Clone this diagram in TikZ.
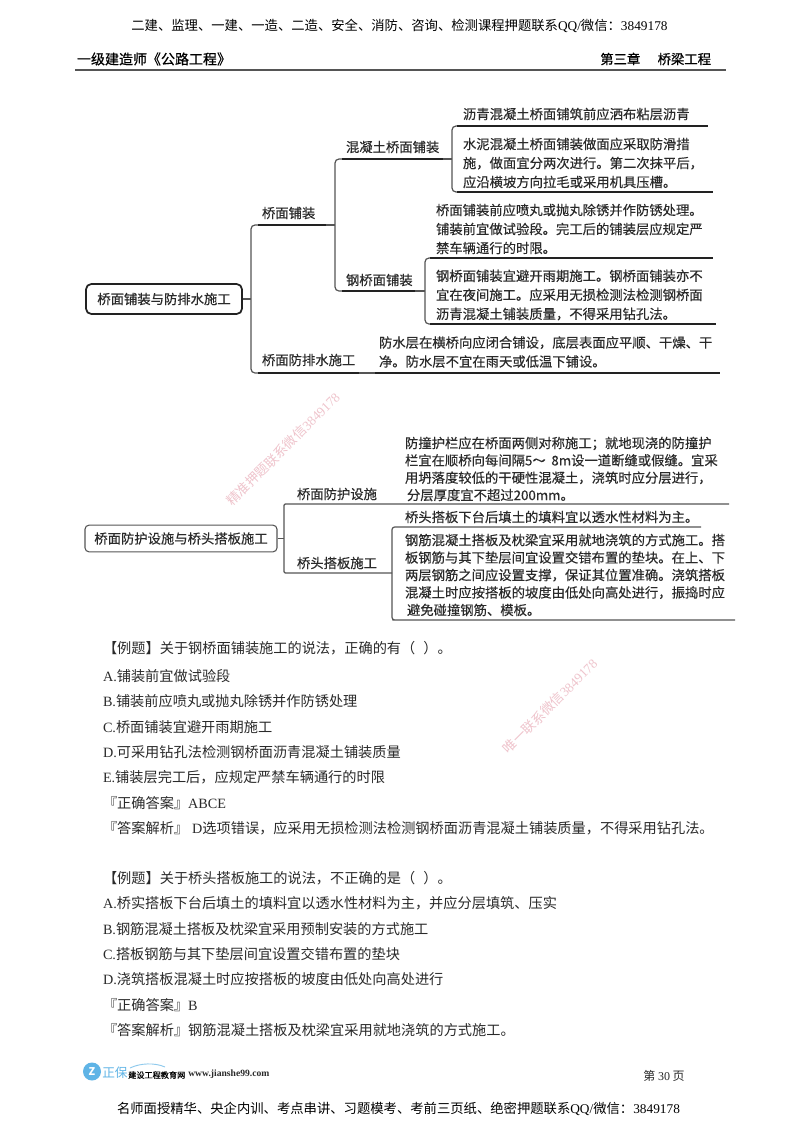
\documentclass[tikz,border=0pt]{standalone}
\usepackage{fontspec}
\setmainfont{Noto Sans CJK SC}
\newfontfamily\lat{Liberation Serif}
\newfontfamily\dia[FakeBold=0.25]{Noto Sans CJK SC}
\newfontfamily\diab[FakeBold=0.6]{Noto Sans CJK SC}
\definecolor{ink}{HTML}{2A2A2A}
\definecolor{wire}{HTML}{555555}
\definecolor{rulec}{HTML}{222222}
\definecolor{wm}{HTML}{EFC4CC}
\definecolor{logob}{HTML}{5FB4E6}
\tikzset{
  x=0.75pt,y=-0.75pt,
  txt/.style={inner sep=0,outer sep=0,anchor=west,align=left,text=ink,font=\fontsize{10}{14.25}\selectfont\dia},
  lab/.style={txt},
  body/.style={inner sep=0,outer sep=0,anchor=west,text=ink,font=\fontsize{10.65}{14}\selectfont},
  hd/.style={inner sep=0,outer sep=0,text=black,font=\fontsize{10}{14}\selectfont},
  wire1/.style={draw=wire,line width=0.9pt,rounded corners=3pt},
  thickline/.style={draw=rulec,line width=1.5pt},
  rootA/.style={draw=rulec,line width=1.3pt,rounded corners=4pt,fill=white,text=ink,inner sep=0,font=\fontsize{10}{14}\selectfont\diab},
  rootB/.style={draw=wire,line width=0.8pt,rounded corners=3pt,fill=white,text=ink,inner sep=0,font=\fontsize{10}{14}\selectfont\dia},
  wmark/.style={inner sep=0,text=wm,rotate=45,font=\fontsize{10}{12}\selectfont},
}
\begin{document}
\begin{tikzpicture}
\useasboundingbox (0,0) rectangle (800,1132);
\fill[white] (0,0) rectangle (800,1132);
% header
\node[hd] (top) at (399.5,25.5) {二建、监理、一建、一造、二造、安全、消防、咨询、检测课程押题联系{\lat QQ/}微信：{\lat 3849178}};
\node[hd,anchor=west,font=\fontsize{10.5}{14}\selectfont\diab] (hl) at (77,59) {一级建造师《公路工程》};
\node[hd,anchor=east,font=\fontsize{10}{14}\selectfont\diab] (hr) at (711,59) {第三章\hspace{13pt}桥梁工程};
\coordinate (ra) at (75,70); \coordinate (rb) at (726,70);
\draw[draw=wire,line width=1.1pt] (ra) -- (rb);

% tree 1
\node[rootA,minimum width=117pt,minimum height=22.5pt] (r1) at (164,299) {桥面铺装与防排水施工};
\coordinate (t1) at (251,299);
\coordinate (a1) at (258,225); \coordinate (a2) at (326,225); \coordinate (a3) at (335,225);
\coordinate (c1) at (258,373); \coordinate (c2) at (359,373); \coordinate (c3) at (375,373); \coordinate (c4) at (720,373);
\coordinate (b1) at (342,159); \coordinate (b2) at (443,159); \coordinate (b3) at (452,159);
\coordinate (d1) at (342,291); \coordinate (d2) at (415,291); \coordinate (d3) at (425,291);
\coordinate (e1) at (457,126); \coordinate (e2) at (708,126);
\coordinate (f1) at (457,192); \coordinate (f2) at (713,192);
\coordinate (g1) at (430,258); \coordinate (g2) at (713,258);
\coordinate (h1) at (430,324); \coordinate (h2) at (716,324);
\draw[wire1] (r1.east) -- (t1);
\draw[wire1] (a1) -| (t1) |- (c1);
\draw[wire1] (a2) -- (a3);
\draw[wire1] (b1) -| (a3) |- (d1);
\draw[wire1] (b2) -- (b3);
\draw[wire1] (e1) -| (b3) |- (f1);
\draw[wire1] (d2) -- (d3);
\draw[wire1] (g1) -| (d3) |- (h1);
\draw[wire1] (c2) -- (c3);
\draw[thickline] (a1) -- (a2);
\draw[thickline] (b1) -- (b2);
\draw[thickline] (d1) -- (d2);
\draw[thickline] (c1) -- (c2);
\draw[thickline] (c3) -- (c4);
\draw[thickline] (e1) -- (e2);
\draw[thickline] (f1) -- (f2);
\draw[thickline] (g1) -- (g2);
\draw[thickline] (h1) -- (h2);
\node[lab] (n1) at (262,213) {桥面铺装};
\node[lab] (n2) at (346,147) {混凝土桥面铺装};
\node[lab] (n3) at (346,280) {钢桥面铺装};
\node[lab] (n4) at (262,360) {桥面防排水施工};
\node[txt] (n5) at (463,114) {沥青混凝土桥面铺筑前应洒布粘层沥青};
\node[txt] (n6) at (463,163) {水泥混凝土桥面铺装做面应采取防滑措\\施，做面宜分两次进行。第二次抹平后，\\应沿横坡方向拉毛或采用机具压槽。};
\node[txt] (n7) at (436,229) {桥面铺装前应喷丸或抛丸除锈并作防锈处理。\\铺装前宜做试验段。完工后的铺装层应规定严\\禁车辆通行的时限。};
\node[txt] (n8) at (436,295) {钢桥面铺装宜避开雨期施工。钢桥面铺装亦不\\宜在夜间施工。应采用无损检测法检测钢桥面\\沥青混凝土铺装质量，不得采用钻孔法。};
\node[txt] (n9) at (379,352) {防水层在横桥向应闭合铺设，底层表面应平顺、干燥、干\\净。防水层不宜在雨天或低温下铺设。};

% watermarks
\node[wmark] (w1) at (283,449) {精准押题联系微信{\lat 3849178}};
\node[wmark] (w2) at (550,706) {唯一联系微信{\lat 3849178}};

% tree 2
\node[rootB,minimum width=144pt,minimum height=20pt] (r2) at (181,538.5) {桥面防护设施与桥头搭板施工};
\coordinate (t2) at (284,538.5);
\coordinate (p1) at (284,504); \coordinate (p2) at (729,504);
\coordinate (q1) at (284,573); \coordinate (q2) at (392,573);
\coordinate (s1) at (395,527); \coordinate (s2) at (701,527);
\coordinate (u1) at (395,620); \coordinate (u2) at (735,620);
\draw[wire1] (r2.east) -- (t2);
\draw[wire1,rounded corners=1pt] (p2) -- (p1) -- (q1) -- (q2);
\draw[wire1,rounded corners=2pt] (s2) -| (q2) |- (u1) -- (u2);
\node[lab] (m1) at (297,494) {桥面防护设施};
\node[lab] (m2) at (297,563) {桥头搭板施工};
\node[txt,font=\fontsize{10}{13}\selectfont\dia] (m3) at (405,469) {防撞护栏应在桥面两侧对称施工；就地现浇的防撞护\\栏宜在顺桥向每间隔5～\hspace{2pt} 8m设一道断缝或假缝。宜采\\用坍落度较低的干硬性混凝土，浇筑时应分层进行，\\\hspace*{1.5pt}分层厚度宜不超过200mm。};
\node[txt] (m4) at (405,517) {桥头搭板下台后填土的填料宜以透水性材料为主。};
\node[txt,font=\fontsize{10}{13.1}\selectfont\dia] (m5) at (405,575) {钢筋混凝土搭板及枕梁宜采用就地浇筑的方式施工。搭\\板钢筋与其下垫层间宜设置交错布置的垫块。在上、下\\两层钢筋之间应设置支撑，保证其位置准确。浇筑搭板\\混凝土时应按搭板的坡度由低处向高处进行，振捣时应\\\hspace*{1.5pt}避免碰撞钢筋、模板。};

% questions
\node[body] (l1) at (103,648) {【例题】关于钢桥面铺装施工的说法，正确的有（\hspace{6pt}）。};
\node[body] (l2) at (103,676) {{\lat A.}铺装前宜做试验段};
\node[body] (l3) at (103,701) {{\lat B.}铺装前应喷丸或抛丸除锈并作防锈处理};
\node[body] (l4) at (103,727) {{\lat C.}桥面铺装宜避开雨期施工};
\node[body] (l5) at (103,752) {{\lat D.}可采用钻孔法检测钢桥面沥青混凝土铺装质量};
\node[body] (l6) at (103,777) {{\lat E.}铺装层完工后，应规定严禁车辆通行的时限};
\node[body] (l7) at (103,803) {『正确答案』{\lat ABCE}};
\node[body] (l8) at (103,828) {『答案解析』\hspace{3pt}{\lat D}选项错误，应采用无损检测法检测钢桥面沥青混凝土铺装质量，不得采用钻孔法。};
\node[body] (l9) at (103,878) {【例题】关于桥头搭板施工的说法，不正确的是（\hspace{6pt}）。};
\node[body] (l10) at (103,903) {{\lat A.}桥实搭板下台后填土的填料宜以透水性材料为主，并应分层填筑、压实};
\node[body] (l11) at (103,929) {{\lat B.}钢筋混凝土搭板及枕梁宜采用预制安装的方式施工};
\node[body] (l12) at (103,954) {{\lat C.}搭板钢筋与其下垫层间宜设置交错布置的垫块};
\node[body] (l13) at (103,979) {{\lat D.}浇筑搭板混凝土时应按搭板的坡度由低处向高处进行};
\node[body] (l14) at (103,1005) {『正确答案』{\lat B}};
\node[body] (l15) at (103,1030) {『答案解析』钢筋混凝土搭板及枕梁宜采用就地浇筑的方式施工。};

% footer
\fill[logob] (92,1071.5) circle[radius=9];
\node[inner sep=0,text=white,font=\fontsize{8}{8}\selectfont\bfseries] (lz) at (92,1071.5) {Z};
\node[inner sep=0,anchor=west,text=logob,font=\fontsize{9.5}{10}\selectfont] (l16) at (102,1072.5) {正保};
\node[inner sep=0,anchor=west,text=black,font=\fontsize{6.1}{7}\selectfont\diab] (l17) at (128,1075) {建设工程教育网};
\node[inner sep=0,anchor=west,text=ink,font=\fontsize{7.2}{7}\selectfont\bfseries\lat] (l18) at (188,1074.5) {www.jianshe99.com};
\coordinate (arcA) at (130,1068); \coordinate (arcB) at (165,1067);
\draw[logob!70,line width=0.7pt] (arcA) .. controls (140,1063) and (155,1062.5) .. (arcB);
\node[inner sep=0,text=ink,font=\fontsize{9}{12}\selectfont] (pg) at (664,1076) {第 {\lat 30} 页};
\node[hd] (bot) at (398.5,1109) {名师面授精华、央企内训、考点串讲、习题模考、考前三页纸、绝密押题联系{\lat QQ/}微信：{\lat 3849178}};
\end{tikzpicture}
\end{document}
